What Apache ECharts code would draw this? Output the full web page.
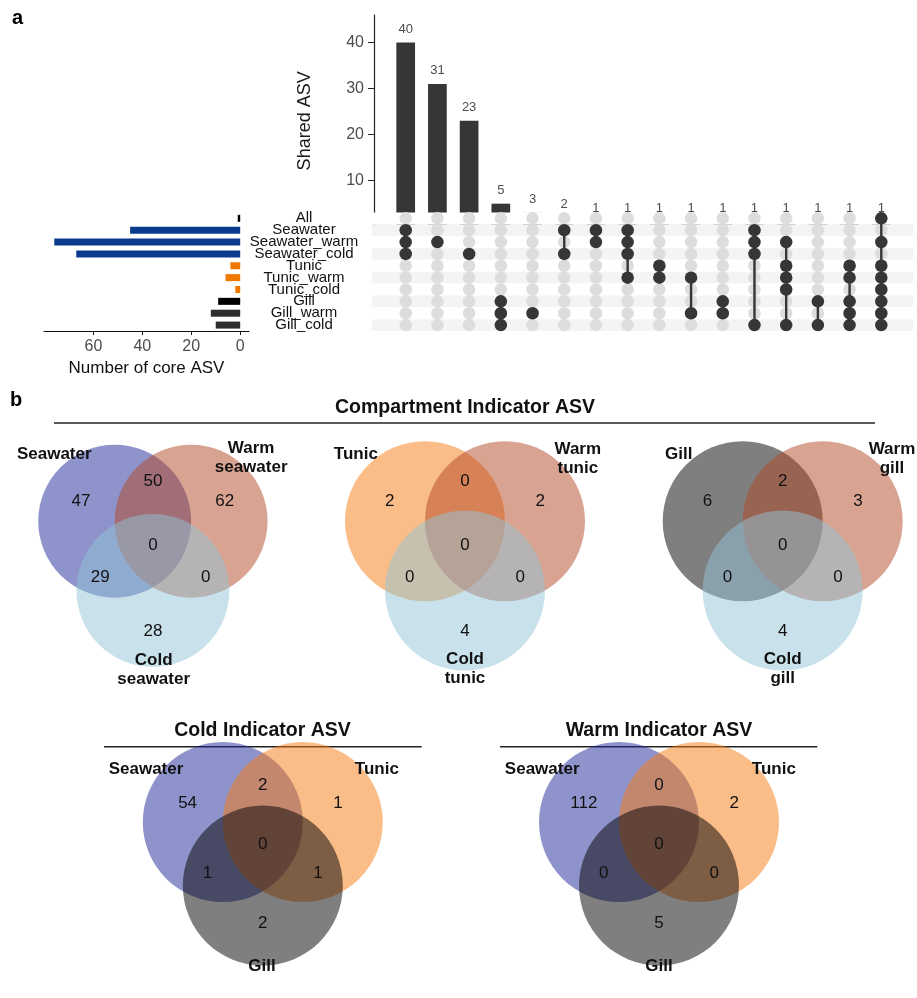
<!DOCTYPE html>
<html>
<head>
<meta charset="utf-8">
<script src="https://cdn.jsdelivr.net/npm/echarts@6/dist/echarts.min.js"></script>
<style>
  html, body { margin: 0; padding: 0; background: #ffffff; }
  #chart { width: 917px; height: 998px; }
</style>
</head>
<body>
<div id="chart"></div>
<script>
// ---------- UpSet plot data ----------
const setNames = ['All', 'Seawater', 'Seawater_warm', 'Seawater_cold', 'Tunic', 'Tunic_warm', 'Tunic_cold', 'Gill', 'Gill_warm', 'Gill_cold'];
const setSizes = [1, 45, 76, 67, 4, 6, 2, 9, 12, 10];
const intersectionSizes = [40, 31, 23, 5, 3, 2, 1, 1, 1, 1, 1, 1, 1, 1, 1, 1];
const intersectionMembers = [
  ['Seawater', 'Seawater_warm', 'Seawater_cold'],
  ['Seawater_warm'],
  ['Seawater_cold'],
  ['Gill', 'Gill_warm', 'Gill_cold'],
  ['Gill_warm'],
  ['Seawater', 'Seawater_cold'],
  ['Seawater', 'Seawater_warm'],
  ['Seawater', 'Seawater_warm', 'Seawater_cold', 'Tunic_warm'],
  ['Tunic', 'Tunic_warm'],
  ['Tunic_warm', 'Gill_warm'],
  ['Gill', 'Gill_warm'],
  ['Seawater', 'Seawater_warm', 'Seawater_cold', 'Gill_cold'],
  ['Seawater_warm', 'Tunic', 'Tunic_warm', 'Tunic_cold', 'Gill_cold'],
  ['Gill', 'Gill_cold'],
  ['Tunic', 'Tunic_warm', 'Gill', 'Gill_warm', 'Gill_cold'],
  ['All', 'Seawater_warm', 'Tunic', 'Tunic_warm', 'Tunic_cold', 'Gill', 'Gill_warm', 'Gill_cold']
];
const sharedTicks = [10, 20, 30, 40];
const coreTicks = [0, 20, 40, 60];

// ---------- Venn data: region counts in order [A, B, C, AB, AC, BC, ABC] ----------
const compartmentSeawater = [47, 62, 28, 50, 29, 0, 0];
const compartmentTunic = [2, 2, 4, 0, 0, 0, 0];
const compartmentGill = [6, 3, 4, 2, 0, 0, 0];
const coldIndicator = [54, 1, 2, 2, 1, 1, 0];
const warmIndicator = [112, 2, 5, 0, 0, 0, 0];

const compartmentSeawaterSets = ['Seawater', 'Warm\nseawater', 'Cold\nseawater'];
const compartmentTunicSets = ['Tunic', 'Warm\ntunic', 'Cold\ntunic'];
const compartmentGillSets = ['Gill', 'Warm\ngill', 'Cold\ngill'];
const indicatorSets = ['Seawater', 'Tunic', 'Gill'];

// ---------- styles ----------
const FONT = 'Liberation Sans, Arial, Helvetica, sans-serif';
const DARK = '#363636';
const setBarColors = ['#000000', '#0b3b8f', '#0b3b8f', '#0b3b8f', '#f07800', '#f07800', '#f07800', '#000000', '#2e2e2e', '#2e2e2e'];
const SEA = 'rgba(31,39,151,0.5)';
const WARM = 'rgba(179,71,35,0.5)';
const COLD = 'rgba(145,195,213,0.5)';
const TUNIC = 'rgba(247,123,17,0.5)';
const GILL = 'rgba(0,0,0,0.5)';

// Three-circle layout in circle-radius units: A left, B right, C below
const circleCenters = [[-0.5, 0], [0.5, 0], [0, -0.866]];
const regionAnchors = [[-0.94, 0.25], [0.94, 0.25], [0, -1.38], [0, 0.5], [-0.69, -0.70], [0.69, -0.70], [0, -0.30]];
const VENN_R = 80;
const VENN_X = [-2, 1.6];
const VENN_Y = [-2.4, 1.6];

const vennPanels = [
  { counts: compartmentSeawater, sets: compartmentSeawaterSets, colors: [SEA, WARM, COLD], cx: 147.2, cy: 521.2,
    labelPos: [[-1.29, 0.83], [1.285, 0.79], [0.01, -1.86]] },
  { counts: compartmentTunic, sets: compartmentTunicSets, colors: [TUNIC, WARM, COLD], cx: 465, cy: 521.2,
    labelPos: [[-1.365, 0.83], [1.41, 0.78], [0, -1.845]] },
  { counts: compartmentGill, sets: compartmentGillSets, colors: [GILL, WARM, COLD], cx: 782.7, cy: 521.2,
    labelPos: [[-1.30, 0.83], [1.366, 0.786], [0, -1.845]] },
  { counts: coldIndicator, sets: indicatorSets, colors: [SEA, TUNIC, GILL], cx: 262.8, cy: 832.8,
    labelPos: [[-1.46, 0.72], [1.425, 0.72], [-0.01, -1.97]] },
  { counts: warmIndicator, sets: indicatorSets, colors: [SEA, TUNIC, GILL], cx: 659, cy: 832.8,
    labelPos: [[-1.46, 0.72], [1.435, 0.72], [0, -1.97]] }
];

const grids = [];
const xAxes = [];
const yAxes = [];
const series = [];

// ---- intersection size bars (grid 0) ----
grids.push({ left: 374, top: 15, width: 539, height: 211.7 });
xAxes.push({ type: 'value', gridIndex: 0, min: 0, max: 17, show: false });
yAxes.push({
  type: 'value', gridIndex: 0, min: 0, max: 46,
  axisLine: { show: true, lineStyle: { color: '#222', width: 1.2 } },
  axisTick: { show: true, length: 6, customValues: sharedTicks, lineStyle: { color: '#222' } },
  axisLabel: { customValues: sharedTicks, margin: 10, fontSize: 16, color: '#4d4d4d', fontFamily: FONT },
  splitLine: { show: false },
  name: 'Shared ASV', nameLocation: 'middle', nameGap: 60,
  nameTextStyle: { fontSize: 18, color: '#1a1a1a', fontFamily: FONT }
});
series.push({
  type: 'bar', xAxisIndex: 0, yAxisIndex: 0,
  data: intersectionSizes.map((v, i) => [i + 1, v]),
  barWidth: 18.7, itemStyle: { color: DARK },
  label: { show: true, position: 'top', distance: 7, fontSize: 13, color: '#4d4d4d', fontFamily: FONT },
  z: 2
});

// ---- membership matrix (grid 1); its striped bands start a touch left of the bar axis ----
grids.push({ left: 372, top: 212.4, width: 541, height: 118.6 });
xAxes.push({ type: 'value', gridIndex: 1, min: -0.0631, max: 17, show: false });
yAxes.push({
  type: 'category', gridIndex: 1, data: setNames, inverse: true,
  axisLine: { show: false },
  axisTick: { show: false, interval: 0 },
  axisLabel: { show: false, interval: 0 },
  splitLine: { show: false },
  splitArea: { show: true, interval: 0, areaStyle: { color: ['#ffffff', '#f4f4f4'] } },
  z: 3
});
const allCells = [];
intersectionSizes.forEach((v, i) => setNames.forEach(s => allCells.push([i + 1, s])));
series.push({
  type: 'scatter', xAxisIndex: 1, yAxisIndex: 1, data: allCells, symbolSize: 12.5,
  itemStyle: { color: '#dddddd', opacity: 1 }, silent: true, z: 4
});
const spans = intersectionMembers.map((m, i) => {
  const idx = m.map(s => setNames.indexOf(s));
  return [i + 1, Math.min(...idx), Math.max(...idx)];
}).filter(d => d[1] !== d[2]);
series.push({
  type: 'custom', xAxisIndex: 1, yAxisIndex: 1, data: spans, encode: { x: 0, y: [1, 2] }, silent: true,
  renderItem: (params, api) => {
    const a = api.coord([api.value(0), api.value(1)]);
    const b = api.coord([api.value(0), api.value(2)]);
    return { type: 'line', shape: { x1: a[0], y1: a[1], x2: b[0], y2: b[1] }, style: { stroke: DARK, lineWidth: 2.4 } };
  },
  z: 5
});
const memberCells = [];
intersectionMembers.forEach((m, i) => m.forEach(s => memberCells.push([i + 1, s])));
series.push({
  type: 'scatter', xAxisIndex: 1, yAxisIndex: 1, data: memberCells, symbolSize: 12.5,
  itemStyle: { color: DARK, opacity: 1 }, silent: true, z: 6
});

// ---- set size bars (grid 2) ----
grids.push({ left: 44, top: 212.4, width: 205, height: 118.6 });
xAxes.push({
  type: 'value', gridIndex: 2, inverse: true, min: -3.6, max: 80.2,
  axisLine: { show: true, onZero: false, lineStyle: { color: '#111', width: 1.2 } },
  axisTick: { show: true, length: 4, customValues: coreTicks, lineStyle: { color: '#111' } },
  axisLabel: { customValues: coreTicks, margin: 8, fontSize: 16, color: '#4d4d4d', fontFamily: FONT },
  splitLine: { show: false },
  name: 'Number of core ASV', nameLocation: 'middle', nameGap: 29,
  nameTextStyle: { fontSize: 17, color: '#111', fontFamily: FONT }
});
yAxes.push({
  type: 'category', gridIndex: 2, data: setNames, inverse: true, position: 'right',
  axisLine: { show: false }, axisTick: { show: false, interval: 0 },
  axisLabel: { interval: 0, margin: 55, align: 'center', fontSize: 15, color: '#111', fontFamily: FONT }
});
series.push({
  type: 'bar', xAxisIndex: 2, yAxisIndex: 2,
  data: setSizes.map((v, i) => ({ value: v, itemStyle: { color: setBarColors[i] } })),
  barWidth: 7
});

// ---- Venn panels ----
vennPanels.forEach((p, k) => {
  const gi = 3 + k;
  grids.push({
    left: p.cx + VENN_X[0] * VENN_R, top: p.cy - VENN_Y[1] * VENN_R,
    width: (VENN_X[1] - VENN_X[0]) * VENN_R, height: (VENN_Y[1] - VENN_Y[0]) * VENN_R
  });
  xAxes.push({ type: 'value', gridIndex: gi, min: VENN_X[0], max: VENN_X[1], show: false });
  yAxes.push({ type: 'value', gridIndex: gi, min: VENN_Y[0], max: VENN_Y[1], show: false });
  series.push({
    type: 'custom', xAxisIndex: gi, yAxisIndex: gi, silent: true, z: 2,
    data: circleCenters,
    renderItem: (params, api) => {
      const c = api.coord([api.value(0), api.value(1)]);
      const r = api.size([1, 0])[0];
      return { type: 'circle', shape: { cx: c[0], cy: c[1], r: r }, style: { fill: p.colors[params.dataIndex] } };
    }
  });
  series.push({
    type: 'custom', xAxisIndex: gi, yAxisIndex: gi, silent: true, z: 3,
    data: regionAnchors.map((a, j) => [a[0], a[1], p.counts[j]]),
    renderItem: (params, api) => {
      const c = api.coord([api.value(0), api.value(1)]);
      return { type: 'text', x: c[0], y: c[1],
        style: { text: String(api.value(2)), fontSize: 17, fontFamily: FONT, fill: '#111', align: 'center', verticalAlign: 'middle' } };
    }
  });
  series.push({
    type: 'custom', xAxisIndex: gi, yAxisIndex: gi, silent: true, z: 3,
    data: p.labelPos,
    renderItem: (params, api) => {
      const c = api.coord([api.value(0), api.value(1)]);
      return { type: 'text', x: c[0], y: c[1],
        style: { text: p.sets[params.dataIndex], fontSize: 17, fontWeight: 'bold', fontFamily: FONT, fill: '#111',
          align: 'center', verticalAlign: 'middle', lineHeight: 19 } };
    }
  });
});

const titleStyle = (text) => ({ text: text, fontSize: 19.5, fontWeight: 'bold', fontFamily: FONT, fill: '#111', align: 'center', verticalAlign: 'middle' });

const option = {
  backgroundColor: '#ffffff',
  animation: false,
  grid: grids,
  xAxis: xAxes,
  yAxis: yAxes,
  series: series,
  graphic: [
    { type: 'text', x: 17.5, y: 18.7, style: { text: 'a', fontSize: 20, fontWeight: 'bold', fontFamily: FONT, fill: '#000', align: 'center', verticalAlign: 'middle' } },
    { type: 'text', x: 16, y: 400, style: { text: 'b', fontSize: 20, fontWeight: 'bold', fontFamily: FONT, fill: '#000', align: 'center', verticalAlign: 'middle' } },
    { type: 'text', x: 465, y: 408, style: titleStyle('Compartment Indicator ASV') },
    { type: 'line', shape: { x1: 54, y1: 423, x2: 875, y2: 423 }, style: { stroke: '#222', lineWidth: 1.5 } },
    { type: 'text', x: 262.5, y: 731, style: titleStyle('Cold Indicator ASV') },
    { type: 'line', shape: { x1: 104, y1: 746.7, x2: 421.7, y2: 746.7 }, style: { stroke: '#222', lineWidth: 1.5 } },
    { type: 'text', x: 659, y: 731, style: titleStyle('Warm Indicator ASV') },
    { type: 'line', shape: { x1: 500, y1: 746.7, x2: 817.3, y2: 746.7 }, style: { stroke: '#222', lineWidth: 1.5 } }
  ]
};

const chart = echarts.init(document.getElementById('chart'), null, { renderer: 'canvas' });
chart.setOption(option);
</script>
</body>
</html>
